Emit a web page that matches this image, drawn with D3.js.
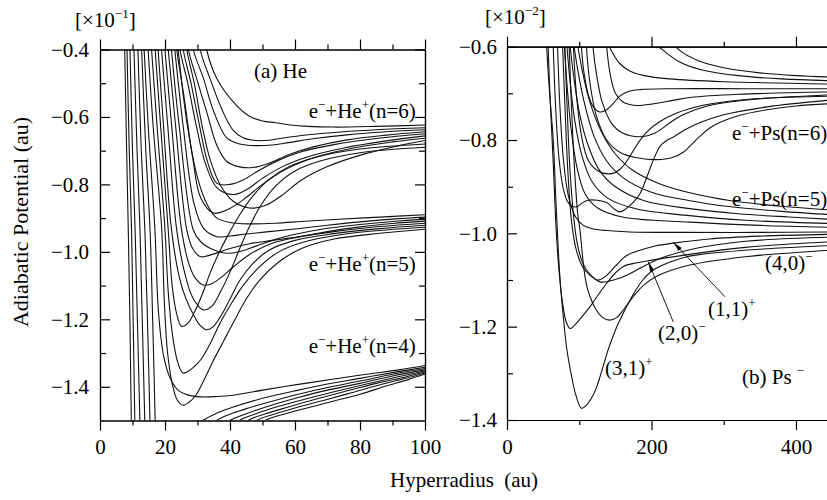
<!DOCTYPE html>
<html lang="en">
<head>
<meta charset="UTF-8">
<title>Adiabatic Potentials</title>
<script src="https://d3js.org/d3.v7.min.js"></script>
<style>
  body { margin: 0; background: #fff; }
  svg { display: block; font-family: "Liberation Serif", "DejaVu Serif", serif; }
  .axis path, .axis line { stroke: #000; stroke-width: 1.2; }
  .axis text { font-family: "Liberation Serif", serif; font-size: 21px; fill: #000; }
  .curve { fill: none; stroke: #111; stroke-width: 1.1; }
  .lbl { font-size: 21px; fill: #000; }
</style>
</head>
<body>
<div id="chart"></div>
<script>
// ---- tick values ----
var heXMajor = [0, 20, 40, 60, 80, 100], heXMinor = [10, 30, 50, 70, 90];
var heYMajor = [-0.4, -0.6, -0.8, -1.0, -1.2, -1.4], heYMinor = [-0.5, -0.7, -0.9, -1.1, -1.3];
var psXMajor = [0, 200, 400], psXMinor = [100, 300];
var psYMajor = [-0.6, -0.8, -1.0, -1.2, -1.4], psYMinor = [-0.7, -0.9, -1.1, -1.3];

// ---- (a) He : x in au, y in units of 1e-1 au ----
// repulsive walls that leave through the bottom
var heWalls = [
  [[7.5,-0.35],[8.2,-0.7],[8.7,-0.935],[9.2,-1.2],[9.7,-1.55]],
  [[8.2,-0.35],[9.0,-0.7],[9.7,-0.935],[10.2,-1.2],[10.8,-1.55]],
  [[9.1,-0.35],[10.0,-0.7],[10.8,-0.935],[11.5,-1.2],[12.4,-1.55]],
  [[10.3,-0.35],[11.4,-0.7],[12.3,-0.935],[13.0,-1.2],[13.9,-1.55]],
  [[11.5,-0.35],[12.7,-0.7],[13.8,-0.935],[14.6,-1.2],[15.5,-1.55]],
  [[12.6,-0.35],[14.1,-0.7],[15.4,-0.935],[16.2,-1.2],[17.1,-1.55]]
];
// curves going to He+(n=4)
var heN4 = [
  [[13.3,-0.35],[14.8,-0.62],[16.9,-0.935],[18,-1.18],[19.6,-1.31],[21.6,-1.375],[24,-1.41],[27,-1.424],[31,-1.43],[36,-1.429],[41,-1.425],[50,-1.41],[61,-1.393],[72,-1.377],[82,-1.363],[92,-1.35],[100,-1.337]],
  [[30,-1.52],[31.7,-1.5],[36,-1.478],[41,-1.46],[51,-1.432],[61,-1.41],[70,-1.392],[80,-1.375],[90,-1.358],[100,-1.342]],
  [[34.2,-1.52],[35.9,-1.5],[41,-1.478],[46,-1.462],[51,-1.448],[61,-1.422],[70,-1.402],[80,-1.383],[90,-1.363],[100,-1.346]],
  [[38.3,-1.52],[40,-1.5],[45,-1.48],[51,-1.46],[61,-1.432],[70,-1.41],[80,-1.39],[90,-1.368],[100,-1.35]],
  [[41.3,-1.52],[43,-1.5],[48,-1.48],[55,-1.458],[63,-1.437],[72,-1.415],[82,-1.392],[91,-1.372],[100,-1.353]],
  [[44,-1.52],[45.6,-1.5],[51,-1.48],[58,-1.46],[66,-1.438],[75,-1.415],[85,-1.39],[93,-1.373],[100,-1.356]],
  [[46.6,-1.52],[48.2,-1.5],[54,-1.48],[61,-1.46],[69,-1.44],[78,-1.416],[87,-1.392],[94,-1.375],[100,-1.359]],
  [[49.4,-1.52],[51,-1.5],[57,-1.48],[64,-1.462],[72,-1.442],[80,-1.422],[88,-1.398],[95,-1.378],[100,-1.362]]
];
// curves going to He+(n=5)
var heN5 = [
  [[23.5,-0.35],[26.8,-0.62],[30,-0.78],[33,-0.86],[36,-0.9],[40,-0.913],[46,-0.917],[54,-0.915],[62,-0.91],[72,-0.904],[86,-0.897],[100,-0.89]],
  [[22.5,-0.35],[25.5,-0.62],[29,-0.86],[32,-0.932],[36,-0.955],[40,-0.953],[45,-0.947],[52,-0.94],[60,-0.932],[70,-0.921],[80,-0.911],[90,-0.903],[100,-0.897]],
  [[21.5,-0.35],[24.3,-0.62],[28.7,-0.935],[31,-0.97],[34,-0.99],[39,-1.004],[43,-0.999],[48,-0.983],[54,-0.963],[60,-0.948],[70,-0.93],[80,-0.919],[90,-0.91],[100,-0.903]],
  [[20.5,-0.35],[23.2,-0.62],[26.7,-0.935],[28.5,-0.99],[30.8,-1.014],[33,-1.012],[36,-1.003],[40,-0.99],[46,-0.976],[53,-0.966],[60,-0.957],[70,-0.94],[80,-0.926],[90,-0.916],[100,-0.909]],
  [[19.5,-0.35],[22,-0.62],[25.1,-0.935],[27.5,-1.04],[29.5,-1.08],[31.8,-1.098],[34,-1.096],[37,-1.078],[41,-1.045],[46,-1.008],[52,-0.978],[60,-0.958],[72,-0.94],[86,-0.925],[100,-0.915]],
  [[17.5,-0.35],[19.5,-0.62],[22,-0.935],[24.6,-1.083],[26.5,-1.14],[28.7,-1.185],[30.8,-1.218],[32.8,-1.231],[35,-1.22],[37.5,-1.185],[40,-1.14],[43,-1.085],[47,-1.035],[52,-0.995],[60,-0.966],[72,-0.946],[86,-0.931],[100,-0.921]],
  [[15.5,-0.35],[17.5,-0.62],[20,-0.935],[21,-1.12],[22.5,-1.26],[24,-1.33],[25.5,-1.359],[27,-1.355],[29,-1.34],[31,-1.32],[34,-1.27],[37,-1.21],[40,-1.16],[44,-1.1],[49,-1.045],[55,-1.0],[63,-0.97],[75,-0.948],[88,-0.935],[100,-0.927]],
  [[14.5,-0.35],[16.3,-0.62],[19,-0.935],[19.8,-1.15],[20.8,-1.3],[22.2,-1.39],[23.8,-1.44],[25.6,-1.455],[27.5,-1.445],[29.5,-1.425],[32,-1.38],[35,-1.32],[38,-1.265],[41,-1.21],[45,-1.14],[49,-1.085],[55,-1.03],[62,-0.99],[72,-0.962],[86,-0.945],[100,-0.933]]
];
// curves going to He+(n=6)
var heN6 = [
  [[31.5,-0.3],[32.8,-0.4],[35.9,-0.485],[41,-0.555],[46,-0.598],[50,-0.612],[54,-0.617],[58,-0.623],[64,-0.628],[72,-0.63],[85,-0.628],[100,-0.624]],
  [[29.5,-0.3],[30.8,-0.4],[33.8,-0.485],[37.8,-0.584],[41,-0.64],[44,-0.662],[48,-0.67],[52,-0.669],[56,-0.663],[62,-0.655],[72,-0.646],[85,-0.638],[100,-0.632]],
  [[27.5,-0.3],[28.7,-0.4],[31.8,-0.485],[35,-0.584],[39,-0.662],[43,-0.68],[48,-0.685],[53,-0.683],[58,-0.676],[66,-0.664],[76,-0.653],[88,-0.644],[100,-0.638]],
  [[26,-0.3],[27.2,-0.4],[29.7,-0.485],[32.8,-0.584],[35.9,-0.683],[39,-0.732],[43,-0.748],[47,-0.75],[52,-0.737],[58,-0.712],[66,-0.688],[76,-0.668],[88,-0.654],[100,-0.644]],
  [[24.4,-0.3],[25.6,-0.4],[28,-0.5],[30.5,-0.62],[33,-0.73],[36,-0.797],[40,-0.8],[44,-0.787],[49,-0.758],[55,-0.728],[62,-0.703],[72,-0.682],[85,-0.664],[100,-0.65]],
  [[23.4,-0.3],[24.6,-0.4],[27,-0.5],[29.5,-0.62],[32.5,-0.74],[36,-0.81],[41,-0.83],[45,-0.816],[50,-0.782],[56,-0.748],[64,-0.718],[75,-0.692],[88,-0.671],[100,-0.656]],
  [[22.5,-0.3],[23.6,-0.4],[26,-0.55],[28.5,-0.72],[31,-0.84],[35,-0.885],[39,-0.876],[44,-0.846],[50,-0.8],[57,-0.756],[66,-0.72],[78,-0.692],[90,-0.674],[100,-0.663]],
  [[25.5,-0.3],[26.7,-0.4],[29,-0.5],[31.5,-0.63],[34,-0.73],[37.5,-0.81],[41,-0.85],[46,-0.87],[51,-0.862],[56,-0.832],[62,-0.787],[70,-0.747],[82,-0.708],[92,-0.685],[100,-0.67]],
  [[16.6,-0.35],[18.6,-0.62],[21,-0.935],[22.2,-1.1],[23.5,-1.18],[25.1,-1.221],[27,-1.212],[29,-1.18],[31.5,-1.125],[34,-1.06],[37,-0.995],[40,-0.94],[43,-0.89],[47,-0.835],[52,-0.785],[58,-0.748],[67,-0.718],[80,-0.695],[100,-0.68]],
  [[18.5,-0.35],[20.8,-0.62],[23.6,-0.935],[26,-1.06],[28.5,-1.135],[31.8,-1.172],[34.5,-1.16],[37,-1.12],[40,-1.06],[43,-0.99],[46,-0.925],[49.5,-0.862],[54,-0.805],[60,-0.76],[68,-0.73],[80,-0.706],[100,-0.69]]
];

// ---- (b) Ps- : x in au, y in units of 1e-2 au ----
// lowest curves, labelled (3,1)+ (2,0)- ... going to n=5 from below
var psLow = [
  [[54,-0.5],[55,-0.6],[59,-0.7],[64,-0.8],[68,-0.94],[71,-1.036],[74,-1.11],[78,-1.179],[83,-1.25],[89.5,-1.307],[95,-1.345],[103,-1.375],[110,-1.368],[118,-1.35],[124,-1.33],[129,-1.306],[135,-1.275],[141,-1.245],[147,-1.22],[152,-1.2],[163,-1.165],[175,-1.13],[188,-1.1],[202,-1.079],[225,-1.062],[249,-1.05],[300,-1.04],[370,-1.032],[450,-1.026]],
  [[56,-0.5],[57,-0.6],[60,-0.72],[64,-0.85],[68,-0.99],[72,-1.08],[77,-1.15],[82,-1.19],[87.2,-1.204],[94,-1.196],[103,-1.18],[115,-1.157],[127,-1.13],[138,-1.107],[150,-1.085],[161,-1.071],[180,-1.063],[198,-1.058],[253,-1.045],[330,-1.03],[450,-1.018]],
  [[84,-0.5],[86,-0.6],[89,-0.72],[93,-0.85],[98,-0.96],[101,-0.993],[106,-1.07],[110,-1.11],[115,-1.136],[122,-1.16],[132,-1.18],[142,-1.186],[152,-1.18],[163,-1.16],[175,-1.135],[190,-1.11],[210,-1.09],[253,-1.068],[330,-1.05],[450,-1.036]],
  [[78,-0.5],[80,-0.6],[83,-0.72],[87,-0.86],[92,-0.96],[97,-1.02],[104,-1.06],[115,-1.088],[129,-1.104],[140,-1.103],[152,-1.098],[168,-1.088],[184,-1.075],[210,-1.055],[253,-1.035],[330,-1.017],[450,-1.008]],
  [[75,-0.5],[77,-0.6],[80,-0.72],[84,-0.86],[89,-0.97],[95,-1.03],[104,-1.07],[115,-1.09],[126,-1.1],[138,-1.09],[150,-1.07],[165,-1.048],[184,-1.036],[205,-1.027],[230,-1.021],[280,-1.012],[350,-1.006],[450,-1.002]],
  [[68,-0.5],[70,-0.6],[73,-0.72],[78,-0.84],[85,-0.92],[95,-0.965],[105.6,-0.983],[118,-0.99],[138,-0.994],[170,-0.997],[250,-0.998],[350,-0.998],[450,-0.997]]
];
// curves falling onto n=5 from above
var psN5 = [
  [[96,-0.58],[104,-0.65],[115,-0.72],[130,-0.78],[150,-0.83],[175,-0.866],[210,-0.893],[253,-0.913],[310,-0.93],[380,-0.942],[450,-0.95]],
  [[91,-0.58],[98,-0.65],[107,-0.72],[120,-0.79],[138,-0.845],[160,-0.88],[200,-0.912],[253,-0.93],[310,-0.943],[380,-0.953],[450,-0.96]],
  [[86,-0.58],[92,-0.66],[100,-0.74],[112,-0.81],[128,-0.865],[150,-0.9],[190,-0.93],[253,-0.947],[320,-0.958],[390,-0.965],[450,-0.97]],
  [[82,-0.58],[87,-0.67],[94,-0.76],[104,-0.835],[118,-0.89],[140,-0.925],[180,-0.948],[253,-0.962],[330,-0.972],[450,-0.979]],
  [[79,-0.58],[83,-0.68],[89,-0.78],[97,-0.86],[108,-0.915],[125,-0.945],[160,-0.965],[253,-0.976],[350,-0.983],[450,-0.987]]
];
// curves going to n=6
var psN6 = [
  [[62,-0.5],[64,-0.6],[67,-0.72],[72,-0.84],[78,-0.905],[84,-0.932],[90,-0.942],[97,-0.943],[104,-0.935],[112,-0.929],[125,-0.929],[138,-0.934],[147,-0.946],[156,-0.954],[165,-0.947],[175,-0.933],[184,-0.915],[191,-0.89],[198,-0.861],[205,-0.834],[212,-0.813],[222,-0.8],[230,-0.794],[245,-0.779],[270,-0.761],[300,-0.746],[360,-0.729],[450,-0.714]],
  [[101,-0.5],[103,-0.6],[107,-0.66],[113,-0.705],[120,-0.73],[129,-0.74],[138,-0.735],[147,-0.722],[156,-0.706],[168,-0.696],[184,-0.692],[230,-0.69],[330,-0.69],[450,-0.69]],
  [[135,-0.5],[138,-0.6],[143,-0.66],[150,-0.7],[160,-0.718],[170,-0.724],[180,-0.726],[200,-0.723],[230,-0.715],[253,-0.709],[320,-0.702],[450,-0.697]],
  [[116,-0.5],[119,-0.6],[124,-0.66],[132,-0.72],[145,-0.765],[160,-0.785],[184,-0.793],[205,-0.785],[230,-0.758],[245,-0.745],[280,-0.726],[340,-0.713],[450,-0.703]],
  [[108,-0.5],[110,-0.6],[115,-0.68],[124,-0.75],[138,-0.8],[158,-0.828],[180,-0.838],[207,-0.842],[228,-0.838],[245,-0.825],[265,-0.795],[285,-0.77],[320,-0.748],[360,-0.735],[400,-0.727],[450,-0.722]],
  [[90,-0.5],[92,-0.6],[96,-0.7],[103,-0.79],[113,-0.845],[128,-0.868],[145,-0.872],[157,-0.862],[168,-0.84],[180,-0.81],[192,-0.785],[210,-0.762],[235,-0.742],[270,-0.726],[330,-0.713],[450,-0.706]],
  [[225,-0.58],[239,-0.608],[265,-0.63],[300,-0.645],[350,-0.656],[400,-0.662],[450,-0.665]],
  [[195,-0.58],[210,-0.6],[239,-0.633],[270,-0.65],[320,-0.662],[380,-0.669],[450,-0.673]],
  [[136,-0.58],[145,-0.61],[156,-0.636],[170,-0.652],[190,-0.662],[225,-0.669],[300,-0.675],[450,-0.68]]
];

// ---- annotations (data coordinates) ----
var heLabels = [
  {x: 47.4, y: -0.484, parts: [['(a) He']]},
  {x: 64.2, y: -0.603, parts: [['e'], ['\u2212', 1], ['+He'], ['+', 1], ['(n=6)']]},
  {x: 64.2, y: -1.056, parts: [['e'], ['\u2212', 1], ['+He'], ['+', 1], ['(n=5)']]},
  {x: 64.2, y: -1.299, parts: [['e'], ['\u2212', 1], ['+He'], ['+', 1], ['(n=4)']]}
];
var psLabels = [
  {x: 311.4, y: -0.799, parts: [['e'], ['\u2212', 1], ['+Ps(n=6)']]},
  {x: 311.4, y: -0.9415, parts: [['e'], ['\u2212', 1], ['+Ps(n=5)']]},
  {x: 357, y: -1.079, parts: [['(4,0)'], ['\u2212', 1]]},
  {x: 278.2, y: -1.177, parts: [['(1,1)'], ['+', 1]]},
  {x: 209, y: -1.229, parts: [['(2,0)'], ['\u2212', 1]]},
  {x: 135.6, y: -1.304, parts: [['(3,1)'], ['+', 1]]},
  {x: 325.3, y: -1.323, parts: [['(b) Ps '], ['\u2212', 1]]}
];
var psArrows = [
  {from: [301.7, -1.136], to: [230.2, -1.019]},
  {from: [230.2, -1.19], to: [195.6, -1.061]}
];

var width = 827, height = 500;
var svg = d3.select('#chart').append('svg')
  .attr('width', width)
  .attr('height', height);

svg.append('defs').append('marker')
  .attr('id', 'arr')
  .attr('viewBox', '0 0 10 6')
  .attr('refX', 10).attr('refY', 3)
  .attr('markerWidth', 10).attr('markerHeight', 6)
  .attr('markerUnits', 'userSpaceOnUse')
  .attr('orient', 'auto')
  .append('path').attr('d', 'M0,0.8L10,3L0,5.2Z').attr('fill', '#000');

function richText(g, x, y, parts, size) {
  var t = g.append('text').attr('class', 'lbl').attr('x', x).attr('y', y).style('font-size', size + 'px');
  var up = false;
  parts.forEach(function(p) {
    var s = t.append('tspan').text(p[0]);
    if (p[1]) {
      s.style('font-size', (size * 0.62) + 'px').attr('dy', up ? 0 : -size * 0.42);
      up = true;
    } else if (up) {
      s.attr('dy', size * 0.42);
      up = false;
    }
  });
  return t;
}

function drawPanel(p) {
  var g = svg.append('g');
  var xl = p.x.range()[0], xr = p.x.range()[1];
  var yb = p.y.range()[0], yt = p.y.range()[1];

  svg.append('clipPath').attr('id', 'clip-' + p.id)
    .append('rect').attr('x', xl).attr('y', yt).attr('width', xr - xl).attr('height', yb - yt);

  var line = d3.line()
    .x(function(d) { return p.x(d[0]); })
    .y(function(d) { return p.y(d[1]); })
    .curve(d3.curveCatmullRom.alpha(0.5));

  g.append('g').attr('clip-path', 'url(#clip-' + p.id + ')')
    .selectAll('path')
    .data(p.curves)
    .enter().append('path')
    .attr('class', 'curve')
    .attr('d', line);

  function ax(gen, tr) {
    g.append('g').attr('class', 'axis').attr('transform', tr).call(gen);
  }
  ax(d3.axisBottom(p.x).tickValues(p.xMajor).tickSize(10).tickSizeOuter(0).tickPadding(9).tickFormat(d3.format('d')), 'translate(0,' + yb + ')');
  ax(d3.axisBottom(p.x).tickValues(p.xMinor).tickSize(5).tickSizeOuter(0).tickFormat(''), 'translate(0,' + yb + ')');
  ax(d3.axisTop(p.x).tickValues(p.xMajor).tickSize(10).tickSizeOuter(0).tickFormat(''), 'translate(0,' + yt + ')');
  ax(d3.axisTop(p.x).tickValues(p.xMinor).tickSize(5).tickSizeOuter(0).tickFormat(''), 'translate(0,' + yt + ')');
  ax(d3.axisLeft(p.y).tickValues(p.yMajor).tickSize(-10).tickSizeOuter(0).tickPadding(p.yPad).tickFormat(d3.format('.1f')), 'translate(' + xl + ',0)');
  ax(d3.axisLeft(p.y).tickValues(p.yMinor).tickSize(-6).tickSizeOuter(0).tickFormat(''), 'translate(' + xl + ',0)');
  if (p.right) {
    ax(d3.axisRight(p.y).tickValues(p.yMajor).tickSize(-10).tickSizeOuter(0).tickFormat(''), 'translate(' + xr + ',0)');
    ax(d3.axisRight(p.y).tickValues(p.yMinor).tickSize(-6).tickSizeOuter(0).tickFormat(''), 'translate(' + xr + ',0)');
  }

  p.labels.forEach(function(l) {
    richText(g, p.x(l.x), p.y(l.y), l.parts, 21);
  });
  (p.arrows || []).forEach(function(a) {
    g.append('line')
      .attr('x1', p.x(a.from[0])).attr('y1', p.y(a.from[1]))
      .attr('x2', p.x(a.to[0])).attr('y2', p.y(a.to[1]))
      .attr('stroke', '#000').attr('stroke-width', 0.9)
      .attr('marker-end', 'url(#arr)');
  });
  richText(g, p.unitX, p.unitY, p.unit, 21);
}

drawPanel({
  id: 'he',
  x: d3.scaleLinear().domain([0, 100]).range([100, 425]),
  y: d3.scaleLinear().domain([-1.5, -0.4]).range([420.5, 49.5]),
  curves: heWalls.concat(heN4, heN5, heN6),
  xMajor: heXMajor, xMinor: heXMinor, yMajor: heYMajor, yMinor: heYMinor,
  yPad: 11, right: true,
  labels: heLabels,
  unit: [['[\u00d710'], ['\u22121', 1], [']']], unitX: 75, unitY: 27
});

drawPanel({
  id: 'ps',
  x: d3.scaleLinear().domain([0, 450]).range([507, 832.1]),
  y: d3.scaleLinear().domain([-1.4, -0.6]).range([420, 46.7]),
  curves: psLow.concat(psN5, psN6),
  xMajor: psXMajor, xMinor: psXMinor, yMajor: psYMajor, yMinor: psYMinor,
  yPad: 10, right: false,
  labels: psLabels, arrows: psArrows,
  unit: [['[\u00d710'], ['\u22122', 1], [']']], unitX: 485, unitY: 24
});

svg.append('text')
  .attr('class', 'lbl')
  .attr('transform', 'translate(28,222) rotate(-90)')
  .attr('text-anchor', 'middle')
  .style('font-size', '22px')
  .text('Adiabatic Potential (au)');

svg.append('text')
  .attr('class', 'lbl')
  .attr('x', 390).attr('y', 487)
  .text('Hyperradius\u00a0 (au)');
</script>
</body>
</html>
